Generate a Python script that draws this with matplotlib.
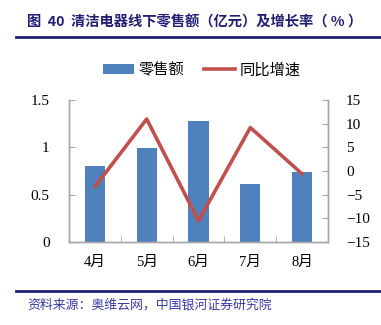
import matplotlib.pyplot as plt
import numpy as np
from matplotlib.lines import Line2D
from matplotlib.patches import Patch

plt.rcParams['font.family'] = ['Liberation Serif', 'Noto Sans CJK SC']

months = ['4月', '5月', '6月', '7月', '8月']
sales = [0.80, 0.99, 1.28, 0.61, 0.74]      # 零售额（亿元）
growth = [-3.3, 11.0, -10.5, 9.2, -0.6]     # 同比增速（%）

bar_color = '#4F81BD'
line_color = '#C0504D'
navy = '#221F73'
axis_gray = '#A6A6A6'
cjk = ['Noto Sans CJK SC', 'DejaVu Sans']

fig = plt.figure(figsize=(3.81, 3.25), dpi=100)
ax = fig.add_axes([0.181, 0.255, 0.680, 0.437])
ax2 = ax.twinx()

x = np.arange(len(months))
ax.bar(x, sales, width=0.39, color=bar_color, zorder=2)
ax2.plot(x, growth, color=line_color, lw=2.6, solid_capstyle='round', zorder=3)

ax.set_xlim(-0.5, len(months) - 0.5)
ax.set_ylim(0, 1.5)
ax.set_yticks([0, 0.5, 1, 1.5])
ax.set_yticklabels(['0', '0.5', '1', '1.5'])
ax2.set_ylim(-15, 15)
ax2.set_yticks(np.arange(-15, 16, 5))

ax.set_xticks(x)
ax.set_xticklabels(months)
ax.set_xticks(np.arange(0.5, len(months) - 1, 1), minor=True)
ax.tick_params(axis='x', which='major', length=0, pad=10, labelsize=10.5)
ax.tick_params(axis='x', which='minor', direction='in', length=4, color=axis_gray)
ax.tick_params(axis='y', direction='in', length=4, color=axis_gray, pad=14, labelsize=11)
ax2.tick_params(axis='y', direction='in', length=4, color=axis_gray, pad=13, labelsize=11)

for a in (ax, ax2):
    a.spines['top'].set_visible(False)
    for s in ('left', 'right', 'bottom'):
        a.spines[s].set_color(axis_gray)
        a.spines[s].set_linewidth(1.0)

# legend
handles = [Patch(facecolor=bar_color, edgecolor='none'),
           Line2D([0], [0], color=line_color, lw=2.6)]
fig.legend(handles, ['零售额', '同比增速'], loc='center', bbox_to_anchor=(0.53, 0.785),
           ncol=2, frameon=False, prop={'family': cjk, 'size': 11},
           handlelength=2.0, handletextpad=0.3, columnspacing=1.3)

# title and source
fig.text(0.071, 0.932, '图  40  清洁电器线下零售额（亿元）及增长率（ % ）', color=navy,
         fontsize=10.3, fontweight='bold', family=cjk, va='center', ha='left')
fig.add_artist(Line2D([0.042, 1.0], [0.886, 0.886], color=navy, lw=2.0))
fig.add_artist(Line2D([0.042, 1.0], [0.105, 0.105], color=navy, lw=2.0))
fig.text(0.071, 0.060, '资料来源：奥维云网，中国银河证券研究院', color='#3A3AA0',
         fontsize=9.3, style='italic', family=cjk, va='center', ha='left')

fig.savefig('out.png', dpi=100)
